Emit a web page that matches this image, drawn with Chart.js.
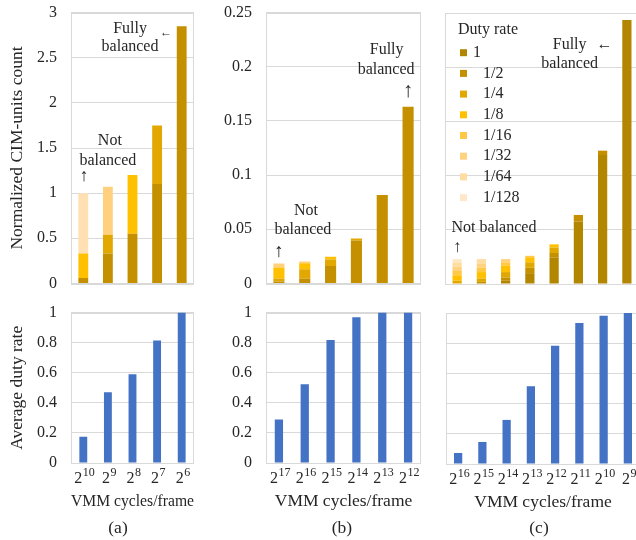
<!DOCTYPE html>
<html lang="en">
<head>
<meta charset="UTF-8">
<title>CIM-units count and duty rate</title>
<script src="https://cdn.jsdelivr.net/npm/chart.js"></script>
<style>
  body { margin: 0; width: 636px; height: 540px; overflow: hidden; background: #fff; position: relative;
         font-family: "Liberation Serif", "Times New Roman", serif; color: #262626; }
  canvas { position: absolute; }
  .tag { position: absolute; top: 517px; width: 40px; margin-left: -20px; text-align: center;
         font-size: 17.5px; line-height: 20px; }
</style>
</head>
<body>
<canvas id="topA"></canvas>
<canvas id="topB"></canvas>
<canvas id="topC"></canvas>
<canvas id="botA"></canvas>
<canvas id="botB"></canvas>
<canvas id="botC"></canvas>
<div class="tag" style="left:118px">(a)</div>
<div class="tag" style="left:342px">(b)</div>
<div class="tag" style="left:539px">(c)</div>
<script>
// VMM cycles/frame, as exponents of 2
const cyclesA = [10, 9, 8, 7, 6];
const cyclesB = [17, 16, 15, 14, 13, 12];
const cyclesC = [16, 15, 14, 13, 12, 11, 10, 9];
const dutyRates = ['1', '1/2', '1/4', '1/8', '1/16', '1/32', '1/64', '1/128'];

// normalized CIM-units count, one row per duty rate (1 first, 1/128 last)
const unitsA = [
  [0.06, 0.33, 0.55, 1.10, 2.85],
  [0, 0.21, 0, 0.65, 0],
  [0.27, 0, 0.65, 0, 0],
  [0, 0.53, 0, 0, 0],
  [0.67, 0, 0, 0, 0],
  [0, 0, 0, 0, 0],
  [0, 0, 0, 0, 0],
  [0, 0, 0, 0, 0]
];
const unitsB = [
  [0.0018, 0.0045, 0.016, 0.0395, 0.0815, 0.163],
  [0.0028, 0.0085, 0.006, 0.002, 0, 0],
  [0.0101, 0.0055, 0.0025, 0, 0, 0],
  [0.0037, 0.0017, 0, 0, 0, 0],
  [0, 0, 0, 0, 0, 0],
  [0, 0, 0, 0, 0, 0],
  [0, 0, 0, 0, 0, 0],
  [0, 0, 0, 0, 0, 0]
];
const unitsC = [
  [0, 0, 0.003, 0.010, 0.0246, 0.0577, 0.119, 0.2435],
  [0, 0.002, 0.003, 0.005, 0.004, 0.006, 0.004, 0],
  [0.003, 0.003, 0.005, 0.005, 0.005, 0, 0, 0],
  [0.005, 0.006, 0.006, 0.004, 0.003, 0, 0, 0],
  [0.004, 0.004, 0.003, 0.002, 0, 0, 0, 0],
  [0.004, 0.004, 0.003, 0, 0, 0, 0, 0],
  [0.004, 0.004, 0, 0, 0, 0, 0, 0],
  [0.003, 0, 0, 0, 0, 0, 0, 0]
];

// average duty rate
const avgDutyA = [0.175, 0.47, 0.59, 0.815, 1.0];
const avgDutyB = [0.29, 0.524, 0.818, 0.969, 1.0, 1.0];
const avgDutyC = [0.073, 0.146, 0.292, 0.515, 0.783, 0.934, 0.982, 1.0];

const goldAB = ['#C49000', '#E2A700', '#FFC000', '#FFD17F', '#FFE0B2', '#FFE6C4', '#FFEBD2', '#FFF0DE'];
const goldC = ['#B38600', '#C49000', '#E0A800', '#FFC000', '#FFC845', '#FFD27F', '#FFDDA0', '#FFE8CA'];
const blue = '#4472C4';

const serif = '"Liberation Serif", "Times New Roman", serif';
const ink = '#262626';
const gridColor = '#d9d9d9';

function stacks(rows, colors) {
  return rows.map((vals, k) => ({ label: dutyRates[k], data: vals, backgroundColor: colors[k] }));
}

function build(cv, c, w, h) {
  cv.width = w;
  cv.height = h;

  const extras = {
    id: 'extras',
    beforeDatasetsDraw(chart) {
      const a = chart.chartArea, ctx = chart.ctx;
      ctx.save();
      ctx.strokeStyle = gridColor;
      ctx.lineWidth = 1;
      ctx.strokeRect(Math.round(a.left) + 0.5, Math.round(a.top) + 0.5,
        Math.round(a.right - a.left) - 1, Math.round(a.bottom - a.top));
      ctx.restore();
    },
    afterDatasetsDraw(chart) {
      const ctx = chart.ctx, xs = chart.scales.x, ys = chart.scales.y, a = chart.chartArea;
      ctx.save();
      ctx.fillStyle = ink;
      ctx.textAlign = 'center';
      ctx.textBaseline = 'middle';
      (c.notes || []).forEach(n => {
        ctx.font = (n.size || 16) + 'px ' + serif;
        ctx.fillText(n.t, xs.getPixelForValue(n.i), ys.getPixelForValue(n.v));
      });

      if (c.supers) {
        ctx.textAlign = 'left';
        ctx.textBaseline = 'alphabetic';
        c.cats.forEach((e, i) => {
          const x = xs.getPixelForValue(i);
          ctx.font = '16px ' + serif;
          const w1 = ctx.measureText('2').width;
          ctx.font = '12px ' + serif;
          const w2 = ctx.measureText(String(e)).width;
          const x0 = x - (w1 + w2) / 2 + 1;
          ctx.font = '16px ' + serif;
          ctx.fillText('2', x0, a.bottom + 20);
          ctx.font = '12px ' + serif;
          ctx.fillText(String(e), x0 + w1 + 0.5, a.bottom + 13);
        });
      }

      if (c.legend) {
        ctx.textAlign = 'left';
        ctx.textBaseline = 'middle';
        ctx.font = '16px ' + serif;
        ctx.fillText('Duty rate', a.left + 13, a.top + 17);
        chart.data.datasets.forEach((d, k) => {
          const yk = a.top + 39.7 + k * 20.7;
          ctx.fillStyle = d.backgroundColor;
          ctx.fillRect(a.left + 15, yk - 3.5, 7, 7);
          ctx.fillStyle = ink;
          ctx.fillText(d.label, a.left + (k ? 38 : 28), yk);
        });
      }
      ctx.restore();
    }
  };

  return new Chart(cv, {
    type: 'bar',
    data: { labels: c.cats.map(String), datasets: c.datasets },
    options: {
      responsive: false,
      maintainAspectRatio: false,
      animation: false,
      layout: { padding: { top: 13, right: c.pr, left: 0, bottom: 0 } },
      datasets: { bar: { barPercentage: c.bar, categoryPercentage: 1 } },
      plugins: { legend: { display: false }, tooltip: { enabled: false } },
      scales: {
        x: {
          stacked: true,
          grid: { display: false },
          border: { display: false },
          ticks: { display: false },
          title: c.xTitle ? {
            display: true, text: c.xTitle, color: ink,
            font: { family: serif, size: 17.5 }, padding: { top: 0, bottom: 27.5 }
          } : { display: false },
          afterFit: s => { s.height = c.xh; }
        },
        y: {
          stacked: true,
          min: 0,
          max: c.max,
          grid: { color: gridColor, drawTicks: false },
          border: { display: false },
          ticks: {
            display: !!c.yTicks, stepSize: c.step, padding: 14, color: ink,
            font: { family: serif, size: 16 },
            callback: v => String(+Number(v).toFixed(4))
          },
          title: c.yTitle ? {
            display: true, text: c.yTitle, color: ink,
            font: { family: serif, size: 17.5 }, padding: { top: 6.5, bottom: 0 }
          } : { display: false },
          afterFit: s => { s.width = c.yw; }
        }
      }
    },
    plugins: [extras]
  });
}

// place the canvas so that its plot area lands on c.area = [left, top, right, bottom]
function panel(c) {
  const cv = document.getElementById(c.id);
  const [l, t, r, b] = c.area;
  let w = c.yw + (r - l) + c.pr;
  let h = 13 + (b - t) + c.xh;
  let chart = build(cv, c, w, h);
  let a = chart.chartArea;
  const dw = (r - l) - (a.right - a.left);
  const dh = (b - t) - (a.bottom - a.top);
  if (Math.abs(dw) > 0.1 || Math.abs(dh) > 0.1) {
    chart.destroy();
    chart = build(cv, c, w + dw, h + dh);
    a = chart.chartArea;
  }
  cv.style.left = (l - a.left) + 'px';
  cv.style.top = (t - a.top) + 'px';
  return chart;
}

// top row: CIM-units count
panel({
  id: 'topA', area: [71, 13, 194, 284], yw: 71, xh: 16, pr: 2,
  cats: cyclesA, datasets: stacks(unitsA, goldAB), max: 3, step: 0.5, bar: 0.4,
  yTicks: true, yTitle: 'Normalized CIM-units count',
  notes: [
    { i: 1.08, v: 1.575, t: 'Not' },
    { i: 1.0, v: 1.36, t: 'balanced' },
    { i: 0.03, v: 1.19, t: '↑', size: 18 },
    { i: 1.9, v: 2.82, t: 'Fully' },
    { i: 1.9, v: 2.616, t: 'balanced' },
    { i: 3.36, v: 2.775, t: '←', size: 12 }
  ]
});
panel({
  id: 'topB', area: [266, 13, 421, 284], yw: 70, xh: 16, pr: 2,
  cats: cyclesB, datasets: stacks(unitsB, goldAB), max: 0.25, step: 0.05, bar: 0.43,
  yTicks: true,
  notes: [
    { i: 4.17, v: 0.2152, t: 'Fully' },
    { i: 4.15, v: 0.1974, t: 'balanced' },
    { i: 5.0, v: 0.177, t: '↑', size: 21 },
    { i: 1.05, v: 0.0667, t: 'Not' },
    { i: 0.93, v: 0.0492, t: 'balanced' },
    { i: 0, v: 0.0286, t: '↑', size: 19 }
  ]
});
panel({
  id: 'topC', area: [445, 13, 639, 284], yw: 20, xh: 16, pr: 0,
  cats: cyclesC, datasets: stacks(unitsC, goldC), max: 0.25, step: 0.05, bar: 0.38,
  legend: true,
  notes: [
    { i: 4.64, v: 0.2205, t: 'Fully' },
    { i: 6.08, v: 0.2205, t: '←', size: 16 },
    { i: 4.64, v: 0.2027, t: 'balanced' },
    { i: 1.52, v: 0.052, t: 'Not balanced' },
    { i: 0, v: 0.0337, t: '↑', size: 17 }
  ]
});

// bottom row: average duty rate
panel({
  id: 'botA', area: [71, 313, 194, 464], yw: 71, xh: 76, pr: 2,
  cats: cyclesA, datasets: [{ data: avgDutyA, backgroundColor: blue }], max: 1, step: 0.2, bar: 0.32,
  yTicks: true, yTitle: 'Average duty rate', xTitle: 'VMM cycles/frame', supers: true
});
panel({
  id: 'botB', area: [266, 313, 421, 464], yw: 70, xh: 76, pr: 2,
  cats: cyclesB, datasets: [{ data: avgDutyB, backgroundColor: blue }], max: 1, step: 0.2, bar: 0.32,
  yTicks: true, xTitle: 'VMM cycles/frame', supers: true
});
panel({
  id: 'botC', area: [446, 313, 640, 464], yw: 20, xh: 76, pr: 0,
  cats: cyclesC, datasets: [{ data: avgDutyC, backgroundColor: blue }], max: 1, step: 0.2, bar: 0.34,
  xTitle: 'VMM cycles/frame', supers: true
});
</script>
</body>
</html>
